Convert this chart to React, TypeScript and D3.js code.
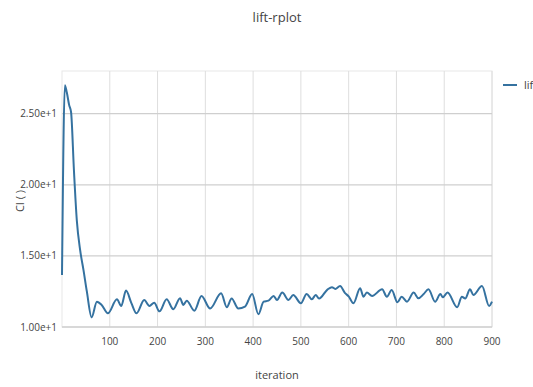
import React from "react";
import * as d3 from "d3";

// Iterations sampled along the run and the CI value at each
const iterations = [
  0, 6, 10, 15, 19, 25, 31, 38, 45, 52, 62, 73, 83, 96, 115, 124, 134, 145, 156,
  172, 183, 193, 204, 219, 233, 247, 254, 261, 277, 292, 310, 333, 345, 355, 369,
  383, 398, 411, 422, 432, 443, 450, 461, 474, 484, 500, 512, 523, 531, 538, 556,
  565, 572, 582, 592, 600, 610, 624, 631, 638, 649, 670, 680, 690, 702, 711, 722,
  736, 746, 757, 767, 781, 792, 797, 807, 827, 837, 844, 854, 861, 879, 894, 900,
];
const ciValues = [
  13.66, 27.0, 26.5, 25.6, 25.1, 21.0, 17.5, 15.4, 14.0, 12.5, 10.68, 11.78,
  11.55, 10.96, 11.95, 11.48, 12.56, 11.7, 10.96, 11.9, 11.48, 11.71, 11.1,
  11.95, 11.25, 12.02, 11.55, 11.85, 11.15, 12.18, 11.3, 12.37, 11.39, 12.0,
  11.3, 11.43, 12.32, 10.9, 11.78, 11.85, 12.18, 11.9, 12.42, 11.9, 12.25,
  11.67, 12.32, 11.95, 12.25, 12.0, 12.65, 12.8, 12.68, 12.88, 12.4, 12.15,
  11.67, 12.72, 12.13, 12.42, 12.18, 12.65, 12.13, 12.6, 11.74, 12.13, 11.78,
  12.42, 12.02, 12.32, 12.65, 11.78, 12.32, 12.09, 12.42, 11.39, 12.13, 12.0,
  12.65, 12.25, 12.89, 11.48, 11.78,
];
const xTicks = [100, 200, 300, 400, 500, 600, 700, 800, 900];
const yTicks = [10, 15, 20, 25];

const title = "lift-rplot";
const xTitle = "iteration";
const yTitle = "CI ( )";
const seriesName = "lift";

const W = 533;
const H = 387;
const plot = { left: 62, right: 492, top: 71, bottom: 327 };
const font = "'Open Sans', 'Noto Sans', sans-serif";
const lineColor = "#3572a0";
const textColor = "#444";

export default function App() {
  const x = d3.scaleLinear().domain([0, 900]).range([plot.left, plot.right]);
  const y = d3.scaleLinear().domain([10, 28]).range([plot.bottom, plot.top]);
  const points = iterations.map((it, i) => [it, ciValues[i]] as [number, number]);
  const line = d3
    .line<[number, number]>()
    .x((d) => x(d[0]))
    .y((d) => y(d[1]))
    .curve(d3.curveMonotoneX);
  const fmt = (v: number) => v.toExponential(2);

  return (
    <div style={{ position: "fixed", left: 0, top: 0 }}>
      <svg width={W} height={H} style={{ display: "block", background: "#fff" }}>
        {/* plot frame */}
        <rect
          x={plot.left}
          y={plot.top}
          width={plot.right - plot.left}
          height={plot.bottom - plot.top}
          fill="none"
          stroke="#e8e8e8"
          strokeWidth={1}
        />
        {/* vertical grid */}
        {xTicks.map((t) => (
          <line
            key={"vx" + t}
            x1={x(t)}
            x2={x(t)}
            y1={plot.top}
            y2={plot.bottom}
            stroke="#dedede"
            strokeWidth={1}
          />
        ))}
        {/* horizontal grid */}
        {yTicks.map((t) => (
          <line
            key={"hy" + t}
            x1={plot.left}
            x2={plot.right}
            y1={y(t)}
            y2={y(t)}
            stroke="#cfcfcf"
            strokeWidth={1.3}
          />
        ))}
        {/* series */}
        <path d={line(points) || ""} fill="none" stroke={lineColor} strokeWidth={2} strokeLinejoin="round" />
        {/* x tick labels */}
        {xTicks.map((t) => (
          <text
            key={"tx" + t}
            x={x(t)}
            y={plot.bottom + 18}
            textAnchor="middle"
            fontFamily={font}
            fontSize={10}
            fill={textColor}
          >
            {t}
          </text>
        ))}
        {/* y tick labels */}
        {yTicks.map((t) => (
          <text
            key={"ty" + t}
            x={plot.left - 5}
            y={y(t) + 3.5}
            textAnchor="end"
            fontFamily={font}
            fontSize={10}
            fill={textColor}
          >
            {fmt(t)}
          </text>
        ))}
        {/* titles */}
        <text x={277} y={22} textAnchor="middle" fontFamily={font} fontSize={13} fill={textColor}>
          {title}
        </text>
        <text x={277} y={379} textAnchor="middle" fontFamily={font} fontSize={11} fill={textColor}>
          {xTitle}
        </text>
        <text
          transform={`translate(24, 201) rotate(-90)`}
          textAnchor="middle"
          fontFamily={font}
          fontSize={11}
          fill={textColor}
        >
          {yTitle}
        </text>
        {/* legend */}
        <line x1={503} x2={517} y1={85} y2={85} stroke={lineColor} strokeWidth={2} />
        <text x={524} y={89} fontFamily={font} fontSize={11} fill={textColor}>
          {seriesName}
        </text>
      </svg>
    </div>
  );
}
